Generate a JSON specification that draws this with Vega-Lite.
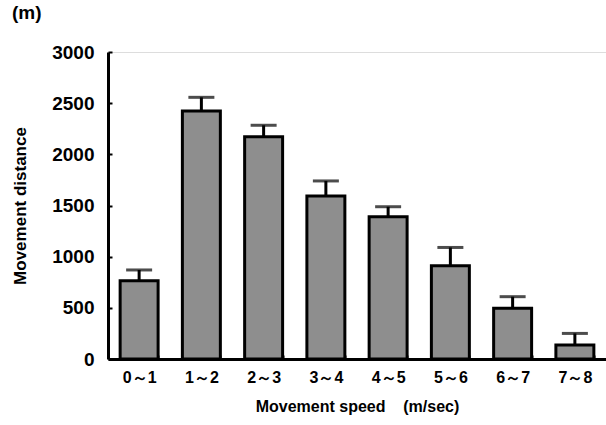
{
  "$schema": "https://vega.github.io/schema/vega-lite/v6.json",
  "width": 498,
  "height": 307,
  "autosize": "none",
  "padding": {"left": 108, "top": 52, "right": 0, "bottom": 66},
  "background": "white",
  "title": {
    "text": "(m)",
    "anchor": "start",
    "frame": "group",
    "dx": -96,
    "offset": 20,
    "font": "Liberation Sans",
    "fontSize": 19,
    "fontWeight": "bold",
    "color": "black"
  },
  "data": {
    "values": [
      {"speed": "0～1", "distance": 765, "upper": 870},
      {"speed": "1～2", "distance": 2424, "upper": 2557},
      {"speed": "2～3", "distance": 2172, "upper": 2284},
      {"speed": "3～4", "distance": 1593, "upper": 1740},
      {"speed": "4～5", "distance": 1390, "upper": 1488},
      {"speed": "5～6", "distance": 912, "upper": 1090},
      {"speed": "6～7", "distance": 495, "upper": 609},
      {"speed": "7～8", "distance": 137, "upper": 250}
    ]
  },
  "encoding": {
    "x": {
      "field": "speed",
      "type": "nominal",
      "sort": null,
      "scale": {"paddingInner": 0.39, "paddingOuter": 0.195},
      "axis": {
        "title": "Movement speed\u00a0\u00a0\u00a0\u00a0(m/sec)",
        "labelAngle": 0,
        "labelFont": "Liberation Sans",
        "labelFontSize": 16,
        "labelFontWeight": "bold",
        "labelColor": "black",
        "labelPadding": 14,
        "titleFont": "Liberation Sans",
        "titleFontSize": 16,
        "titleFontWeight": "bold",
        "titleColor": "black",
        "titlePadding": 13,
        "domainColor": "black",
        "domainWidth": 3,
        "tickBand": "extent",
        "tickSize": -4,
        "tickWidth": 2,
        "tickColor": "black"
      }
    }
  },
  "layer": [
    {
      "mark": {"type": "bar", "fill": "#8e8e8e", "stroke": "black", "strokeWidth": 3},
      "encoding": {
        "y": {
          "field": "distance",
          "type": "quantitative",
          "scale": {"domain": [0, 3000]},
          "axis": {
            "title": "Movement distance",
            "values": [0, 500, 1000, 1500, 2000, 2500, 3000],
            "format": "d",
            "grid": false,
            "labelFont": "Liberation Sans",
            "labelFontSize": 19,
            "labelFontWeight": "bold",
            "labelColor": "black",
            "labelPadding": 18,
            "titleFont": "Liberation Sans",
            "titleFontSize": 17,
            "titleFontWeight": "bold",
            "titleColor": "black",
            "titlePadding": 22,
            "domainColor": "black",
            "domainWidth": 3,
            "tickSize": -4,
            "tickWidth": 2,
            "tickColor": "black"
          }
        }
      }
    },
    {
      "mark": {"type": "rule", "color": "black", "strokeWidth": 3},
      "encoding": {
        "y": {"field": "distance", "type": "quantitative"},
        "y2": {"field": "upper"}
      }
    },
    {
      "mark": {"type": "tick", "color": "black", "thickness": 3, "size": 26},
      "encoding": {
        "y": {"field": "upper", "type": "quantitative"}
      }
    }
  ]
}
